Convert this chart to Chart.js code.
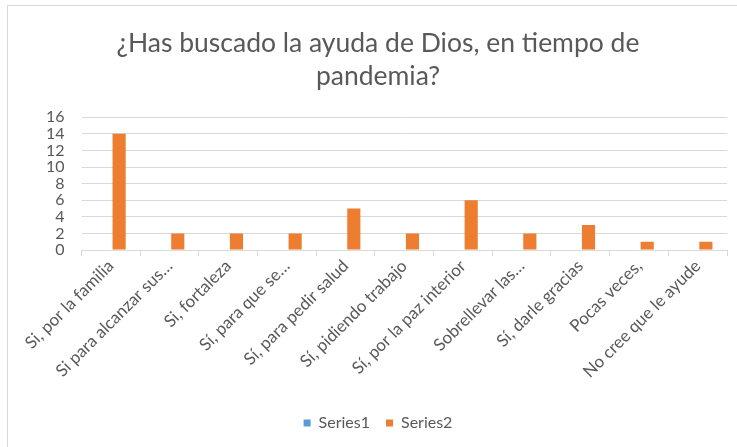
<!DOCTYPE html>
<html>
<head>
  <meta charset="utf-8">
  <title>Ayuda de Dios en pandemia</title>
  <script src="https://cdn.jsdelivr.net/npm/chart.js@4"></script>
  <style>
    body { margin: 0; background: #ffffff; }
    #frame {
      position: absolute; left: 7px; top: 5px; width: 760px; height: 470px;
      border: 1px solid #d9d9d9;
    }
    #wrap { position: absolute; left: 0; top: 0; width: 737px; height: 447px; }
  </style>
</head>
<body>
  <div id="frame"></div>
  <div id="wrap"><canvas id="myChart" width="737" height="447"></canvas></div>
  <script>
    // categorias y valores
    var categorias = [
      'Si, por la familia',
      'Si para alcanzar sus…',
      'Si, fortaleza',
      'Sí, para que se…',
      'Sí, para pedir salud',
      'Sí, pidiendo trabajo',
      'Sí, por la paz interior',
      'Sobrellevar las…',
      'Sí, darle gracias',
      'Pocas veces,',
      'No cree que le ayude'
    ];
    var serie1 = [0, 0, 0, 0, 0, 0, 0, 0, 0, 0, 0];
    var serie2 = [14, 2, 2, 2, 5, 2, 6, 2, 3, 1, 1];
    var marcasY = [0, 2, 4, 6, 8, 10, 12, 14, 16];

    var gris = '#595959';
    var fuente = 'Lato, "Open Sans", sans-serif';

    var ctx = document.getElementById('myChart').getContext('2d');
    var myChart = new Chart(ctx, {
      type: 'bar',
      data: {
        labels: categorias,
        datasets: [{
          label: 'Series1',
          data: serie1,
          backgroundColor: '#5b9bd5',
          borderWidth: 0,
          categoryPercentage: 0.56,
          barPercentage: 0.8
        }, {
          label: 'Series2',
          data: serie2,
          backgroundColor: '#ed7d31',
          borderWidth: 0,
          categoryPercentage: 0.56,
          barPercentage: 0.8
        }]
      },
      options: {
        responsive: false,
        animation: false,
        layout: { padding: { left: 29, right: 10, top: 0, bottom: 6 } },
        plugins: {
          title: {
            display: true,
            text: ['¿Has buscado la ayuda de Dios, en tiempo de', 'pandemia?'],
            color: gris,
            font: { family: fuente, size: 26.5, weight: 'normal', lineHeight: 1.25 },
            padding: { top: 27, bottom: 24 }
          },
          legend: {
            position: 'bottom',
            labels: {
              color: gris,
              font: { family: fuente, size: 16 },
              boxWidth: 7,
              boxHeight: 7,
              padding: 16
            }
          },
          tooltip: { enabled: false }
        },
        scales: {
          x: {
            grid: {
              display: true,
              drawOnChartArea: false,
              drawTicks: true,
              tickLength: 6,
              color: '#d9d9d9',
              offset: true
            },
            border: { display: true, color: '#d9d9d9' },
            ticks: {
              color: gris,
              font: { family: fuente, size: 17 },
              minRotation: 45,
              maxRotation: 45,
              autoSkip: false,
              padding: 0
            },
            afterFit: function(scale) { scale.height = 149; }
          },
          y: {
            min: 0,
            max: 16,
            afterBuildTicks: function(scale) {
              scale.ticks = marcasY.map(function(v) { return { value: v }; });
            },
            grid: { color: '#d9d9d9', drawTicks: false, lineWidth: 1 },
            border: { display: false },
            ticks: {
              color: gris,
              font: { family: fuente, size: 16 },
              padding: 17,
              autoSkip: false
            }
          }
        }
      }
    });
  </script>
</body>
</html>
